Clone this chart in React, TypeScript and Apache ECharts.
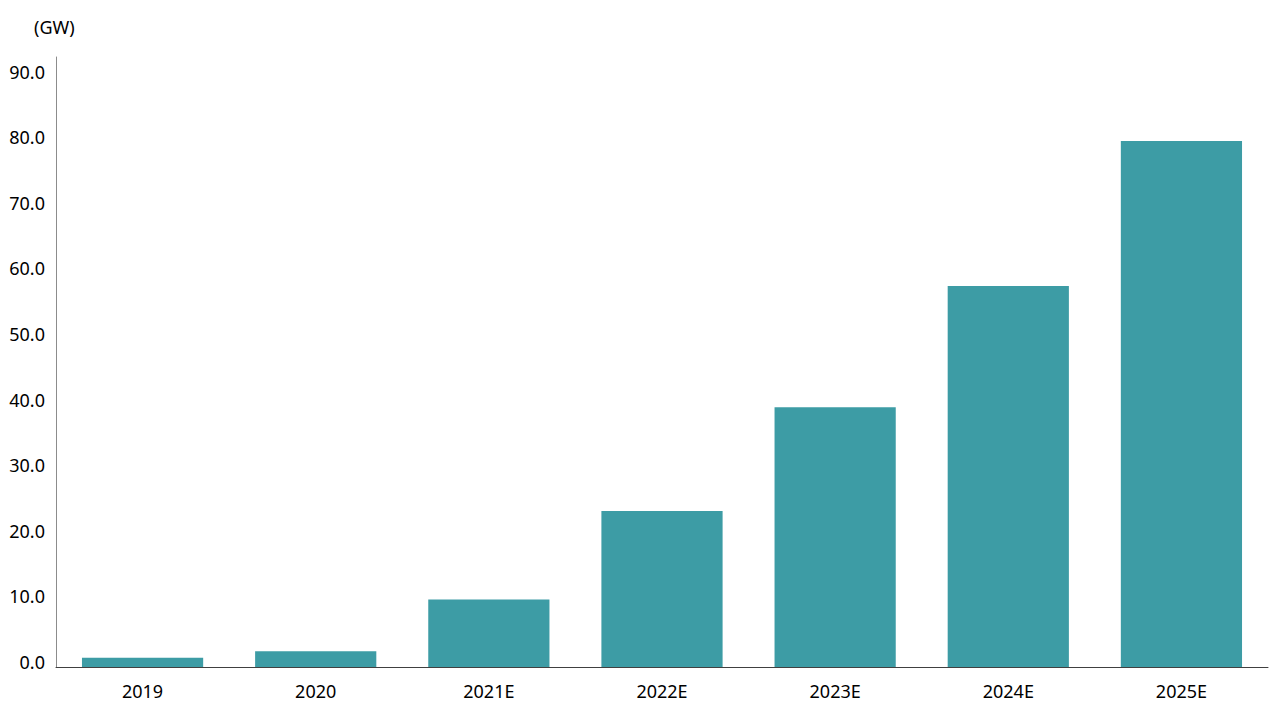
import React, { useEffect, useRef } from "react";
import * as echarts from "echarts";

const categories = ["2019", "2020", "2021E", "2022E", "2023E", "2024E", "2025E"];
const capacity = [1.4, 2.4, 10.3, 23.8, 39.6, 58.1, 80.2];
const unitLabel = "(GW)";

export default function App() {
  const ref = useRef<HTMLDivElement>(null);
  useEffect(() => {
    if (!ref.current) return;
    const chart = echarts.init(ref.current, undefined, { renderer: "svg" });
    const font = "Noto Sans";
    chart.setOption({
      animation: false,
      backgroundColor: "#ffffff",
      grid: { left: 56, right: 12, top: 57, bottom: 53, containLabel: false },
      graphic: [
        {
          type: "text",
          left: 34,
          top: 18,
          style: { text: unitLabel, fontFamily: font, fontSize: 18, fill: "#000" },
        },
      ],
      xAxis: {
        type: "category",
        data: categories,
        axisLine: { show: true, lineStyle: { color: "#404040", width: 1 } },
        axisTick: { show: false },
        axisLabel: { color: "#000", fontFamily: font, fontSize: 18, margin: 15 },
      },
      yAxis: {
        type: "value",
        min: 0,
        max: 93,
        interval: 10,
        splitLine: { show: false },
        axisLine: { show: true, lineStyle: { color: "#8c8c8c", width: 1 } },
        axisTick: { show: false },
        axisLabel: {
          color: "#000",
          fontFamily: font,
          fontSize: 18,
          margin: 11,
          verticalAlign: "bottom",
          lineHeight: 10,
          showMaxLabel: false,
          formatter: (v: number) => (v % 10 === 0 ? v.toFixed(1) : ""),
        },
      },
      series: [
        {
          type: "bar",
          data: capacity,
          barWidth: "70%",
          itemStyle: { color: "#3d9ca5" },
        },
      ],
    });
    return () => chart.dispose();
  }, []);
  return (
    <div
      ref={ref}
      style={{ position: "fixed", left: 0, top: 0, width: 1280, height: 720 }}
    />
  );
}
